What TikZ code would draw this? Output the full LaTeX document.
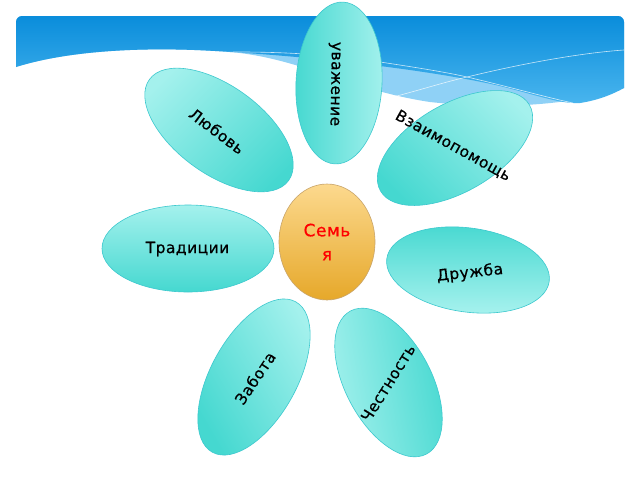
\documentclass[tikz,border=0pt]{standalone}
\usepackage{fontspec}
\setmainfont{DejaVu Sans}
\newfontfamily\lblfont[LetterSpace=3,FakeBold=0.6]{DejaVu Sans}
\usetikzlibrary{shapes.geometric}
\definecolor{petalL}{HTML}{A4F1ED}
\definecolor{petalD}{HTML}{45D8D0}
\definecolor{petalB}{HTML}{3CC8CE}
\definecolor{eggT}{HTML}{FCD98E}
\definecolor{eggB}{HTML}{E6A82A}
\definecolor{eggE}{HTML}{C8A46A}
\definecolor{hdrT}{HTML}{0A8DDB}
\definecolor{hdrB}{HTML}{49B5EE}
\definecolor{hdrL}{HTML}{8FD1F6}
\tikzset{
  petal/.style={ellipse, draw=petalB, line width=0.6pt, inner sep=0pt,
    top color=petalL, bottom color=petalD},
  lbl/.style={font=\lblfont\fontsize{15.5}{18}\selectfont, text=black, inner sep=0pt},
  egg/.style={ellipse, draw=eggE, line width=0.6pt, inner sep=0pt,
    top color=eggT, bottom color=eggB, minimum width=96pt, minimum height=116pt,
    text=red, align=center, font=\lblfont\fontsize{17}{24}\selectfont},
  wline/.style={white, line width=0.6pt, opacity=0.75}
}
\begin{document}
\begin{tikzpicture}[x=1pt,y=-1pt]
\useasboundingbox (0,0) rectangle (640,480);
\fill[white] (0,0) rectangle (640,480);
% header: light band (whole region)
\fill[hdrL] (16,67) -- (16,22) arc[start angle=180,end angle=270,radius=6] -- (618,16)
  arc[start angle=270,end angle=360,radius=6] -- (624,88)
  .. controls (590,100) and (520,112) .. (430,102)
  .. controls (350,90) and (300,58) .. (230,52)
  .. controls (150,46) and (70,50) .. (16,67) -- cycle;
% header: dark region
\shade[top color=hdrT, bottom color=hdrB] (16,67) -- (16,22) arc[start angle=180,end angle=270,radius=6] -- (618,16)
  arc[start angle=270,end angle=360,radius=6] -- (624,88)
  .. controls (615,93) and (600,100) .. (580,103)
  .. controls (560,104) and (540,96) .. (500,86)
  .. controls (440,72) and (330,58) .. (230,52)
  .. controls (150,46) and (70,50) .. (16,67) -- cycle;
\draw[wline] (200,53) .. controls (260,50) and (330,54) .. (380,62)
  .. controls (420,68) and (450,73) .. (467,77) .. controls (510,87) and (545,97) .. (573,103);
\draw[wline] (393,97) .. controls (420,90) and (445,82) .. (467,77)
  .. controls (520,64) and (580,53) .. (624,50);
% petals
\node[petal, minimum width=162pt, minimum height=86pt, rotate=-93, shading angle=-90] (p1) at (339,83) {};
\node[petal, minimum width=172pt, minimum height=88pt, rotate=-36, shading angle=45] (p2) at (219,130) {};
\node[petal, minimum width=172pt, minimum height=88pt, rotate=30, shading angle=-45] (p3) at (455,148) {};
\node[petal, minimum width=172pt, minimum height=87pt, rotate=0, shading angle=0] (p4) at (188,248.5) {};
\node[petal, minimum width=164pt, minimum height=84pt, rotate=-8, shading angle=180] (p5) at (468,270) {};
\node[petal, minimum width=172pt, minimum height=86pt, rotate=61, shading angle=-60] (p6) at (254,377) {};
\node[petal, minimum width=162pt, minimum height=86pt, rotate=-62, shading angle=100] (p7) at (388.5,382.5) {};
% centre
\node[egg] (fam) at (327,242) {Семь\\я};
% labels
\node[lbl, rotate=-91] (t1) at (334,84) {уважение};
\node[lbl, rotate=-37] (t2) at (217,131) {Любовь};
\node[lbl, rotate=-29] (t3) at (453,146) {Взаимопомощь};
\node[lbl] (t4) at (187.5,249) {Традиции};
\node[lbl, rotate=6] (t5) at (470,273) {Дружба};
\node[lbl, rotate=56] (t6) at (255,378) {Забота};
\node[lbl, rotate=58] (t7) at (388,383) {Честность};
\end{tikzpicture}
\end{document}
